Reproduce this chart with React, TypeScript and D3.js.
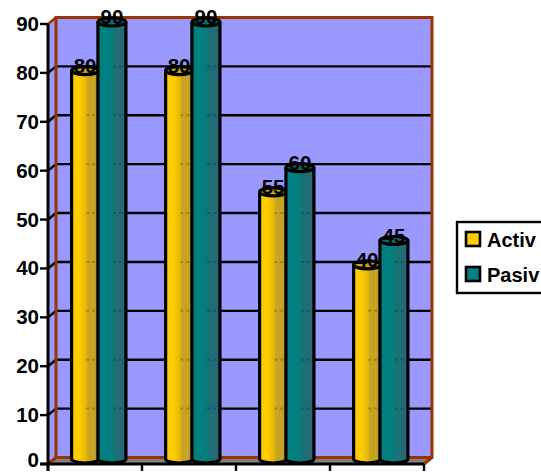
import React from "react";
import * as d3 from "d3";

const categories = ["A", "B", "C", "D"];
const activ = [80, 80, 55, 40];
const pasiv = [90, 90, 60, 45];
const seriesNames = ["Activ", "Pasiv"];
const yTicks = [0, 10, 20, 30, 40, 50, 60, 70, 80, 90];

const FONT = "'Liberation Sans', Arial, sans-serif";
const yFront = d3.scaleLinear().domain([0, 90]).range([464, 24]);
const yCyl = d3.scaleLinear().domain([0, 90]).range([459, 22]);
const x = d3.scaleBand<string>().domain(categories).range([48, 424]);
const DX = 8;
const DY = 6.5;

const makeStops = (a: string, a2: string, b: string, c: string) => [
  [0, a], [0.3, a], [0.5, a2], [0.6, b], [0.64, c], [0.68, b], [0.74, c], [0.8, b], [0.86, c], [1, c],
] as [number, string][];
const yellowStops = makeStops("#FFCC00", "#E8BA08", "#D0AA18", "#BC9E2C");
const tealStops = makeStops("#008080", "#057C7C", "#157474", "#2A6678");

function Cyl({ cx, v, w, fill, cap }: any) {
  const top = yCyl(v);
  const bot = yCyl(0);
  const rx = w / 2;
  const ry = 4;
  const d = `M${cx - rx},${top}L${cx - rx},${bot}A${rx},${ry} 0 0 0 ${cx + rx},${bot}L${cx + rx},${top}`;
  const gridLines = yTicks.filter((t) => t > 0 && t < v);
  return (
    <g>
      <path d={d} fill={fill} stroke="#000" strokeWidth={3.2} />
      {gridLines.map((t) => (
        <line key={t} x1={cx + 1} x2={cx + rx - 2} y1={yFront(t) - DY} y2={yFront(t) - DY}
          stroke="#000" strokeWidth={2} strokeDasharray="3 3" opacity={0.2} />
      ))}
      <ellipse cx={cx} cy={top} rx={rx} ry={ry} fill={cap} stroke="#000" strokeWidth={3.2} />
    </g>
  );
}

export default function App() {
  const bw = x.bandwidth();
  const w = 27;
  const cxA = (c: string) => (x(c) as number) + bw * 0.395;
  const cxP = (c: string) => (x(c) as number) + bw * 0.68;
  return (
    <svg width={541} height={472} style={{ position: "absolute", left: 0, top: 0 }}>
      <defs>
        <linearGradient id="gy">
          {yellowStops.map(([o, c], i) => <stop key={i} offset={o} stopColor={c} />)}
        </linearGradient>
        <linearGradient id="gt">
          {tealStops.map(([o, c], i) => <stop key={i} offset={o} stopColor={c} />)}
        </linearGradient>
      </defs>
      <rect width={541} height={472} fill="#fff" />
      <rect x={48 + DX} y={yFront(90) - DY} width={376} height={440} fill="#9999FF" />
      <path d={`M48,${yFront(0)}L${48 + DX},${yFront(0) - DY}L${48 + DX},${yFront(90) - DY}L48,${yFront(90)}Z`} fill="#9999FF" />
      <path d={`M48,464L${48 + DX},${464 - DY}L${424 + DX},${464 - DY}L424,464Z`} fill="#808080" />
      {yTicks.filter((t) => t > 0 && t < 90).map((t) => (
        <line key={t} x1={48 + DX} x2={424 + DX} y1={yFront(t) - DY} y2={yFront(t) - DY} stroke="#000" strokeWidth={2.4} />
      ))}
      {yTicks.filter((t) => t > 0 && t <= 90).map((t) => (
        <line key={t} x1={48} x2={48 + DX} y1={yFront(t)} y2={yFront(t) - DY} stroke={t === 90 ? "#993300" : "#000"} strokeWidth={2.4} />
      ))}
      <path d={`M${48 + DX},${464 - DY}L${48 + DX},${yFront(90) - DY}L${424 + DX},${yFront(90) - DY}L${424 + DX},${464 - DY}L424,464`} fill="none" stroke="#993300" strokeWidth={3} />
      <path d={`M48,464L${48 + DX},${464 - DY}L${424 + DX},${464 - DY}`} fill="none" stroke="#993300" strokeWidth={3} />
      <line x1={48} x2={48} y1={yFront(90)} y2={471} stroke="#000" strokeWidth={3} />
      <line x1={40} x2={424} y1={464} y2={464} stroke="#000" strokeWidth={3} />
      {yTicks.map((t) => (
        <g key={t}>
          <line x1={40} x2={48} y1={yFront(t)} y2={yFront(t)} stroke="#000" strokeWidth={2.4} />
          <text x={39} y={Math.min(yFront(t) + 7, 467)} textAnchor="end" fontFamily={FONT} fontWeight="bold" fontSize={20.5} fill="#000">{t}</text>
        </g>
      ))}
      {[...categories.map((c) => x(c) as number), 424].map((p) => (
        <line key={p} x1={p} x2={p} y1={464} y2={471} stroke="#000" strokeWidth={2.4} />
      ))}
      {categories.map((c, i) => (
        <g key={c}>
          <Cyl cx={cxA(c)} v={activ[i]} w={w} fill="url(#gy)" cap="#C9A414" />
          <Cyl cx={cxP(c)} v={pasiv[i]} w={w + 1} fill="url(#gt)" cap="#0A6A6A" />
        </g>
      ))}
      {categories.map((c, i) => (
        <g key={c} fontFamily={FONT} fontWeight="bold" fontSize={20.5} fill="#000" textAnchor="middle">
          <text x={cxA(c)} y={yCyl(activ[i]) + 2}>{activ[i]}</text>
          <text x={cxP(c)} y={yCyl(pasiv[i]) + 2}>{pasiv[i]}</text>
        </g>
      ))}
      <rect x={457} y={222} width={100} height={71} fill="#fff" stroke="#000" strokeWidth={2.4} />
      {seriesNames.map((n, i) => (
        <g key={n}>
          <rect x={466} y={232 + i * 35} width={14} height={14} fill={i === 0 ? "#FFCC00" : "#008080"} stroke="#000" strokeWidth={2.6} />
          <text x={487} y={247 + i * 35} fontFamily={FONT} fontWeight="bold" fontSize={20} fill="#000">{n}</text>
        </g>
      ))}
    </svg>
  );
}
